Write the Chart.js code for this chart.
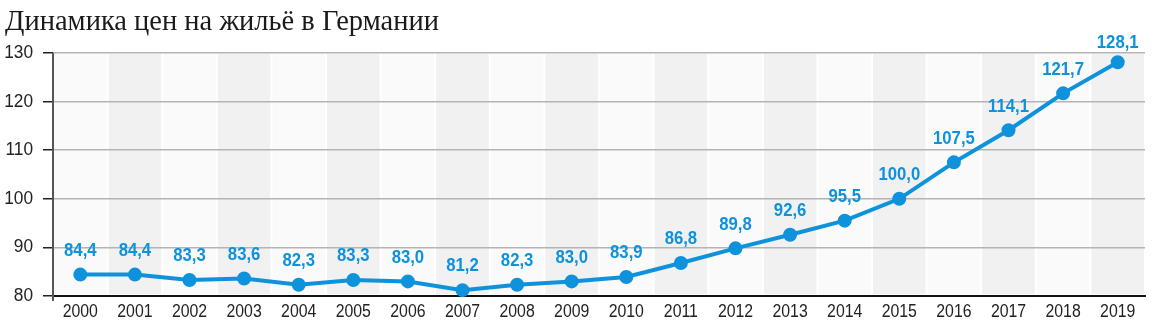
<!DOCTYPE html>
<html>
<head>
<meta charset="utf-8">
<script src="https://cdn.jsdelivr.net/npm/chart.js@4"></script>
<style>
    html, body { margin: 0; padding: 0; background: #fff; }
    #wrap { width: 1160px; height: 327px; position: relative; }
</style>
</head>
<body>
<div id="wrap"><canvas id="priceChart"></canvas></div>
<script>
const chartTitle = 'Динамика цен на жильё в Германии'
const years = ['2000', '2001', '2002', '2003', '2004', '2005', '2006', '2007', '2008', '2009',
    '2010', '2011', '2012', '2013', '2014', '2015', '2016', '2017', '2018', '2019']
const priceIndex = [84.4, 84.4, 83.3, 83.6, 82.3, 83.3, 83.0, 81.2, 82.3, 83.0,
    83.9, 86.8, 89.8, 92.6, 95.5, 100.0, 107.5, 114.1, 121.7, 128.1]
const yTicks = [80, 90, 100, 110, 120, 130]

const blue = 'rgb(14, 146, 220)'
const sans = '"Liberation Sans", Arial, sans-serif'

// draws text squeezed horizontally, the original uses a condensed face
function narrowText(ctx, text, x, y, squeeze) {
    ctx.save()
    ctx.translate(x, y)
    ctx.scale(squeeze, 1)
    ctx.fillText(text, 0, 0)
    ctx.restore()
}

// title + striped columns behind the plot
const backdrop = {
    id: 'backdrop',
    beforeDraw(chart) {
        const { ctx, chartArea } = chart
        const x = chart.scales.x
        const step = x.getPixelForValue(1) - x.getPixelForValue(0)
        ctx.save()
        years.forEach((y, i) => {
            const cx = x.getPixelForValue(i)
            ctx.fillStyle = i % 2 ? '#f1f1f1' : '#fafafa'
            ctx.fillRect(cx - step / 2 + 1, chartArea.top + 1, step - 2, chartArea.bottom - chartArea.top - 3)
        })
        ctx.fillStyle = '#1a1a1a'
        ctx.font = '28.5px "Liberation Serif", "DejaVu Serif", serif'
        ctx.textBaseline = 'alphabetic'
        ctx.fillText(chartTitle, 5, 30)
        ctx.restore()
    },
    afterDraw(chart) {
        const { ctx, chartArea } = chart
        const x = chart.scales.x
        const y = chart.scales.y
        ctx.save()
        // vertical axis line runs a little past the bottom
        ctx.strokeStyle = '#555'
        ctx.lineWidth = 2
        ctx.beginPath()
        ctx.moveTo(chartArea.left, chartArea.top)
        ctx.lineTo(chartArea.left, chartArea.bottom + 5)
        ctx.stroke()

        ctx.fillStyle = '#222'
        ctx.font = '18px ' + sans
        ctx.textBaseline = 'middle'
        ctx.textAlign = 'right'
        yTicks.forEach(v => narrowText(ctx, String(v), 33, y.getPixelForValue(v), 0.96))
        ctx.textAlign = 'center'
        ctx.textBaseline = 'alphabetic'
        years.forEach((lbl, i) => narrowText(ctx, lbl, x.getPixelForValue(i), chartArea.bottom + 21, 0.88))
        ctx.restore()
    }
}

const valueLabels = {
    id: 'valueLabels',
    afterDatasetsDraw(chart) {
        const { ctx } = chart
        const meta = chart.getDatasetMeta(0)
        ctx.save()
        ctx.fillStyle = blue
        ctx.font = 'bold 19px ' + sans
        ctx.textAlign = 'center'
        ctx.textBaseline = 'middle'
        meta.data.forEach((pt, i) => {
            const ly = Math.max(pt.y - 24, 43)
            narrowText(ctx, priceIndex[i].toFixed(1).replace('.', ','), pt.x, ly, 0.88)
        })
        ctx.restore()
    }
}

const ctx = document.getElementById('priceChart')
const priceChart = new Chart(ctx, {
    type: 'line',
    data: {
        labels: years,
        datasets: [{
            data: priceIndex,
            borderColor: blue,
            backgroundColor: blue,
            borderWidth: 4,
            pointRadius: 5,
            pointHoverRadius: 5,
            tension: 0,
            clip: false
        }]
    },
    options: {
        responsive: true,
        maintainAspectRatio: false,
        animation: false,
        layout: { padding: { top: 53, right: 15, bottom: 0, left: 0 } },
        plugins: {
            legend: { display: false },
            tooltip: { enabled: false }
        },
        scales: {
            x: {
                offset: true,
                grid: { display: false, drawTicks: false },
                border: { color: '#111', width: 2 },
                ticks: { display: false, autoSkip: false },
                afterFit(scale) { scale.height = 31 }
            },
            y: {
                min: 80,
                max: 130,
                afterBuildTicks(scale) { scale.ticks = yTicks.map(v => ({ value: v })) },
                grid: {
                    color: '#b4b4b4',
                    lineWidth: 1.5,
                    tickLength: 10,
                    tickColor: '#222'
                },
                border: { display: false },
                ticks: { display: false },
                afterFit(scale) { scale.width = 53 }
            }
        }
    },
    plugins: [backdrop, valueLabels]
})
</script>
</body>
</html>
